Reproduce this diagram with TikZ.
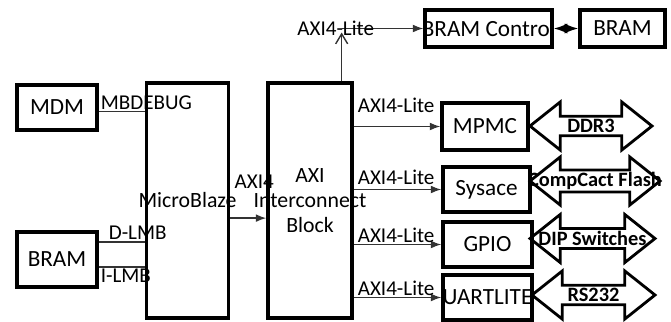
\documentclass[tikz,border=0pt]{standalone}
\usepackage{fontspec}
\setmainfont{Carlito}
\usepackage{tikz}
\usetikzlibrary{arrows.meta,shapes}
\tikzset{
 blk/.style={draw,line width=2.4pt,inner sep=0pt,font=\fontsize{16.5}{19}\selectfont},
 tall/.style={draw,line width=2.4pt,inner sep=0pt,minimum width=20.5mm,minimum height=58.75mm,align=center,font=\fontsize{15.5}{18}\selectfont},
 lbl/.style={inner sep=1pt,font=\fontsize{15}{17}\selectfont},
 wire/.style={line width=1pt,draw=black!80},
 bus/.style={double arrow,draw,line width=2pt,minimum width=12mm,double arrow head extend=3mm,double arrow tip angle=77,inner sep=0pt,font=\bfseries\fontsize{14.5}{16}\selectfont}
}
\newcommand{\zerowd}[1]{\makebox[0pt]{#1}}

\begin{document}
\begin{tikzpicture}[x=0.25mm,y=-0.25mm]
\useasboundingbox(0,0)rectangle(671,321);
\node[blk,minimum width=20mm,minimum height=11.25mm](mdm)at(57,107.5){MDM};
\node[blk,minimum width=20mm,minimum height=13.75mm](bramL)at(57,259.5){BRAM};
\node[tall](mb)at(187.5,200.5){\zerowd{MicroBlaze}};
\node[tall,minimum width=21mm](axi)at(310,200.5){\zerowd{AXI}\\\zerowd{Interconnect}\\\zerowd{Block}};
\node[blk,minimum width=31.75mm,minimum height=9.25mm](bramc)at(488.5,28.5){\zerowd{BRAM Control}};
\node[blk,minimum width=21.25mm,minimum height=9.25mm](bramR)at(622.5,28.5){BRAM};
\node[blk,minimum width=21.5mm,minimum height=11.75mm](mpmc)at(485,126.5){MPMC};
\node[blk,minimum width=21.75mm,minimum height=11.25mm](sysace)at(486.5,189.5){Sysace};
\node[blk,minimum width=22.25mm,minimum height=11.25mm](gpio)at(487.5,244.5){GPIO};
\node[blk,minimum width=22.25mm,minimum height=11.25mm](uart)at(487.5,297.5){\zerowd{UARTLITE}};
\node[bus,minimum height=30.5mm](ddr)at(591,126){\zerowd{DDR3}};
\node[bus,minimum height=32.5mm](cf)at(595,181){\zerowd{CompCact Flash}};
\node[bus,minimum height=31.25mm](dip)at(592.5,238.5){\zerowd{DIP Switches}};
\node[bus,minimum height=30.75mm](rs)at(593.5,295){\zerowd{RS232}};
\draw[wire]([yshift=-1mm]mdm.east)--([yshift=-1mm]mdm.east-|mb.west)node[lbl,pos=0,above right]{MBDEBUG};
\draw[wire]([yshift=4.4mm]bramL.east)--([yshift=4.4mm]bramL.east-|mb.west)node[lbl,pos=0,above right,xshift=2mm]{D-LMB};
\draw[wire]([yshift=-1.9mm]bramL.east)--([yshift=-1.9mm]bramL.east-|mb.west)node[lbl,pos=0,below right]{I-LMB};
\draw[wire,-Latex]([yshift=-4.4mm]mb.east)--([yshift=-4.4mm]mb.east-|axi.west)node[lbl,midway,above=7mm,xshift=1.5mm]{AXI4};
\coordinate(tc)at([xshift=-3mm]axi.north east|-bramc.west);
\draw[wire,-{Straight Barb[length=2.5mm,width=3mm]},shorten >=1mm]([xshift=-3mm]axi.north east)--(tc);
\draw[wire,-Latex](tc)--(bramc.west);
\node[lbl,xshift=-1.5mm]at(tc){AXI4-Lite};
\draw[line width=1.5pt,Latex-Latex](bramc.east)--(bramR.west);
\foreach \b/\s in {mpmc/3mm,sysace/0.8mm,gpio/0mm,uart/0mm}
 \draw[wire,-Latex](axi.east|-\b.west)--(\b.west)node[lbl,pos=0,above right,xshift=0.5mm,yshift=\s]{AXI4-Lite};
\end{tikzpicture}
\end{document}
